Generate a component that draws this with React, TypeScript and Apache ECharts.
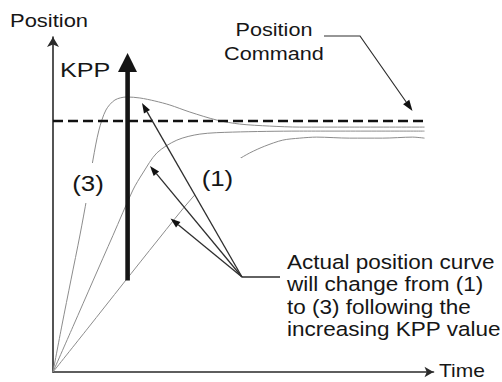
import React, { useEffect, useRef } from "react";
import * as echarts from "echarts";

// Curve (3): highest KPP (overshoot)
const curve3X = [0, 2.36, 4.72, 7.09, 8.92, 10.5, 12.07, 13.91, 16.27, 19.42, 22.83, 26.77, 30.71, 35.96, 43.04, 49.08, 56.96, 64.83, 77.95, 97.64];
const curve3Y = [0, 0.187, 0.367, 0.546, 0.697, 0.845, 0.964, 1.044, 1.084, 1.096, 1.092, 1.08, 1.064, 1.036, 1.004, 0.988, 0.98, 0.976, 0.976, 0.976];
// Curve (2): medium KPP
const curve2X = [0, 5.25, 10.5, 15.75, 21.0, 23.62, 27.3, 32.55, 38.58, 47.24, 64.83, 97.64];
const curve2Y = [0, 0.181, 0.363, 0.544, 0.725, 0.793, 0.873, 0.924, 0.948, 0.956, 0.96, 0.96];
// Curve (1): lowest KPP
const curve1X = [0, 9.19, 18.37, 27.56, 36.75, 42.52, 48.56, 51.71, 55.64, 60.37, 64.83, 69.29, 77.95, 86.61, 94.49, 97.64];
const curve1Y = [0, 0.175, 0.351, 0.526, 0.697, 0.781, 0.845, 0.873, 0.9, 0.924, 0.932, 0.936, 0.932, 0.932, 0.936, 0.932];
// Position command
const commandX = [0, 97.64];
const commandY = [1, 1];

const zip = (xs: number[], ys: number[]) => xs.map((x, i) => [x, ys[i]]);

function head(x1: number, y1: number, x2: number, y2: number, len: number, w: number) {
  const dx = x2 - x1, dy = y2 - y1, d = Math.hypot(dx, dy);
  const ux = dx / d, uy = dy / d;
  const bx = x2 - ux * len, by = y2 - uy * len;
  return {
    base: [bx, by],
    pts: [[x2, y2], [bx - uy * w / 2, by + ux * w / 2], [bx + uy * w / 2, by - ux * w / 2]],
  };
}

const FONT = "'Liberation Sans', Arial, sans-serif";
const TXT = "#161616";
const ANN = "#2e2e2e";

function txt(text: string, x: number, y: number, size: number, sx: number, align: string = "left", extra: any = {}) {
  return {
    type: "text",
    x,
    y,
    scaleX: sx,
    z: 100,
    style: {
      text,
      x: 0,
      y: 0,
      fill: TXT,
      font: `${size}px ${FONT}`,
      align,
      verticalAlign: "middle",
      ...extra,
    },
  };
}

export default function App() {
  const ref = useRef<HTMLDivElement>(null);
  useEffect(() => {
    document.body.style.margin = "0";
    const chart = echarts.init(ref.current!, null, { renderer: "svg" });

    const origin = [242, 277];
    const tips = [[142, 103], [150, 166], [170.5, 218.5]];
    const annEls: any[] = [];
    tips.forEach((t) => {
      const h = head(origin[0], origin[1], t[0], t[1], 10, 7);
      annEls.push({
        type: "line",
        z: 100,
        shape: { x1: origin[0], y1: origin[1], x2: h.base[0], y2: h.base[1] },
        style: { stroke: ANN, lineWidth: 1.3 },
      });
      annEls.push({ type: "polygon", z: 100, shape: { points: h.pts }, style: { fill: "#111" } });
    });
    const cmdHead = head(360, 36, 412.5, 111, 11, 7.5);

    const curveStyle = { color: "#8c8c8c", width: 1 };

    chart.setOption({
      animation: false,
      backgroundColor: "#ffffff",
      grid: { left: 53, right: 68.5, top: 37, bottom: 10 },
      xAxis: {
        type: "value",
        min: 0,
        max: 100,
        axisLine: { show: true, symbol: ["none", "arrow"], symbolSize: [8, 9], lineStyle: { color: "#2a2a2a", width: 1.6 } },
        axisTick: { show: false },
        axisLabel: { show: false },
        splitLine: { show: false },
      },
      yAxis: {
        type: "value",
        min: 0,
        max: 1.335,
        axisLine: { show: true, symbol: ["none", "arrow"], symbolSize: [9, 10], lineStyle: { color: "#2a2a2a", width: 1.6 } },
        axisTick: { show: false },
        axisLabel: { show: false },
        splitLine: { show: false },
      },
      series: [
        { type: "line", data: zip(curve1X, curve1Y), showSymbol: false, smooth: 0.3, lineStyle: curveStyle, z: 2 },
        { type: "line", data: zip(curve2X, curve2Y), showSymbol: false, smooth: 0.3, lineStyle: curveStyle, z: 2 },
        { type: "line", data: zip(curve3X, curve3Y), showSymbol: false, smooth: 0.3, lineStyle: curveStyle, z: 2 },
        {
          type: "line",
          data: zip(commandX, commandY),
          showSymbol: false,
          lineStyle: { color: "#111111", width: 2.4, type: [10, 5] },
          z: 3,
        },
      ],
      graphic: [
        txt("Position", 10, 20.5, 18, 1.22),
        txt("KPP", 60, 69.5, 21, 1.2),
        txt("Position", 274, 30, 18.5, 1.17, "center"),
        txt("Command", 274, 53.5, 18.5, 1.17, "center"),
        txt("Time", 439, 371, 17.5, 1.2),
        txt("(3)", 88, 183, 22.5, 1.15, "center", { backgroundColor: "#fff", padding: [12, 3, 5, 3] }),
        txt("(1)", 218, 178, 22.5, 1.15, "center", { backgroundColor: "#fff", padding: [9, 7, 8, 6] }),
        txt("Actual position curve", 287, 262, 19.5, 1.155),
        txt("will change from (1)", 287, 284.3, 19.5, 1.155),
        txt("to (3) following the", 287, 306.6, 19.5, 1.155),
        txt("increasing KPP value", 287, 329, 19.5, 1.155),
        // KPP thick arrow
        { type: "rect", z: 100, shape: { x: 125.3, y: 70, width: 4.6, height: 210.5 }, style: { fill: "#151515" } },
        { type: "polygon", z: 100, shape: { points: [[118, 72], [137, 72], [127.6, 53]] }, style: { fill: "#151515" } },
        // annotation arrows
        ...annEls,
        { type: "line", z: 100, shape: { x1: 242, y1: 277, x2: 280, y2: 277 }, style: { stroke: ANN, lineWidth: 1.3 } },
        // position command leader
        {
          type: "polyline",
          z: 100,
          shape: { points: [[324, 36], [360, 36], cmdHead.base] },
          style: { stroke: ANN, lineWidth: 1.2, fill: null },
        },
        { type: "polygon", z: 100, shape: { points: cmdHead.pts }, style: { fill: "#111" } },
      ],
    });
    return () => chart.dispose();
  }, []);
  return <div ref={ref} style={{ width: 502, height: 382 }} />;
}
